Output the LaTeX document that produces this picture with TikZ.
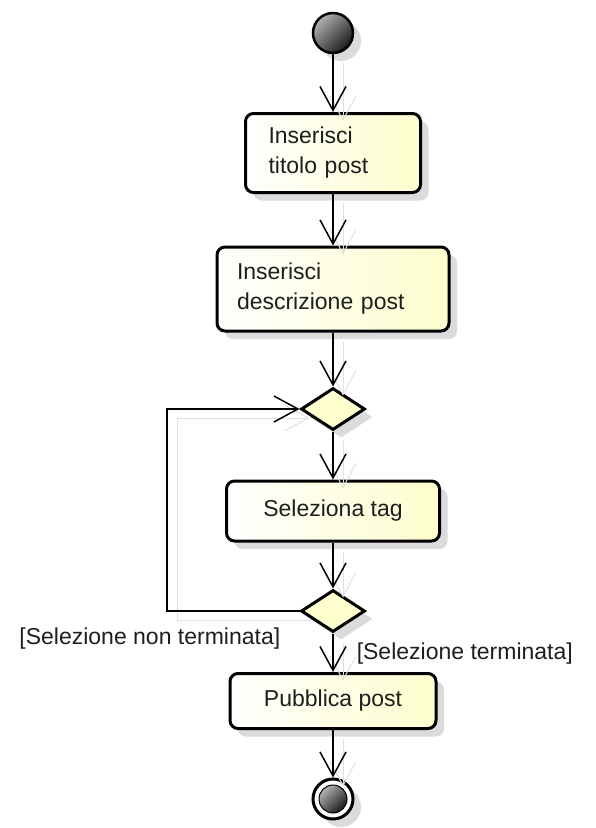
\documentclass[tikz,border=0pt]{standalone}
\usepackage{fontspec}
\setmainfont{Liberation Sans}
\usetikzlibrary{arrows.meta,shapes.geometric,shadows}
\definecolor{actfill}{RGB}{254,254,206}
\definecolor{txtgray}{RGB}{30,30,30}
\tikzset{every picture/.style={line width=1.5pt}}
\tikzset{
  shade/.style={drop shadow={shadow xshift=8pt,shadow yshift=-8pt,fill=black!14,opacity=1}},
  act/.style={draw,rounded corners=8pt,line width=3pt,left color=white,right color=actfill,text=txtgray,font=\fontsize{23}{30}\selectfont,inner sep=0pt,shade},
  choice/.style={draw,diamond,line width=3pt,fill=actfill,minimum width=64pt,minimum height=42pt,inner sep=0pt,shade},
  startdot/.style={draw,circle,line width=2.5pt,minimum size=40pt,inner sep=0pt,top color=black!30,bottom color=black!90,shading angle=45,shade},
  endring/.style={draw,circle,line width=3pt,fill=white,minimum size=40pt,inner sep=0pt,shade},
  enddot/.style={draw,circle,line width=1pt,minimum size=28pt,inner sep=0pt,top color=black!30,bottom color=black!90,shading angle=45},
  guard/.style={text=txtgray,font=\fontsize{23}{30}\selectfont,inner sep=0pt},
  flow/.style={-{Straight Barb[length=24pt,width=26pt]},preaction={draw=black!12,line width=1pt,transform canvas={xshift=10pt,yshift=-9pt}}}
}
\begin{document}
\begin{tikzpicture}[x=1pt,y=1pt,yscale=-1,xscale=1]
\useasboundingbox (0,0) rectangle (596,828);

%Shape: Circle
\node (start) [startdot] at (333,33) {};
%Shape: Rounded Rect
\node (titolo) [act,text width=129pt,align=left,minimum width=175pt,minimum height=79pt] at (333,153) {Inserisci\\titolo post};
%Shape: Rounded Rect
\node (descr) [act,text width=192pt,align=left,minimum width=232pt,minimum height=84pt] at (333,289) {Inserisci\\descrizione post};
%Shape: Diamond
\node (dec1) [choice] at (333,409) {};
%Shape: Rounded Rect
\node (tag) [act,minimum width=213pt,minimum height=60pt] at (333,511) {Seleziona tag};
%Shape: Diamond
\node (dec2) [choice] at (333,611) {};
%Shape: Rounded Rect
\node (pubblica) [act,minimum width=206pt,minimum height=55pt] at (333,701) {Pubblica post};
%Shape: Circle
\node (fine) [endring] at (333,799) {};
\node (finedot) [enddot] at (fine) {};
\coordinate (loopx) at (167,0);

%Straight Lines
\draw [flow] (start) -- (titolo);
\draw [flow] (titolo) -- (descr);
\draw [flow] (descr) -- (dec1);
\draw [flow] (dec1) -- (tag);
\draw [flow] (tag) -- (dec2);
\draw [flow] (dec2) -- (pubblica);
\draw [flow] (pubblica) -- (fine);
%Straight Lines
\draw [flow] (dec2.west) -- (dec2.west -| loopx) |- (dec1.west);

% Text Node
\node (nonterm) [guard,anchor=east] at (281,639) {[Selezione non terminata]};
% Text Node
\node (term) [guard,anchor=west] at (356,654) {[Selezione terminata]};

\end{tikzpicture}
\end{document}
